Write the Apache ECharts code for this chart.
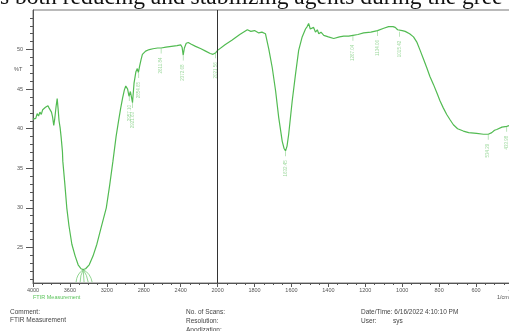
<!DOCTYPE html>
<html><head><meta charset="utf-8">
<script src="https://cdn.jsdelivr.net/npm/echarts@6/dist/echarts.min.js"></script>
<style>html,body{margin:0;padding:0;background:#fff}#c{width:509px;height:331px}</style>
</head><body><div id="c"></div>
<script>
// FTIR spectrum (wavenumber cm-1, %T)
const wavenumbers = [4000,3985,3970,3955,3940,3925,3910,3895,3880,3865,3850,3838,3825,3812,3800,3788,3775,3765,3750,3738,3728,3718,3706,3695,3681,3677,3655,3634,3610,3579,3543,3511,3480,3456,3430,3391,3350,3308,3260,3206,3170,3134,3100,3073,3050,3029,3010,2995,2975,2960,2945,2935,2922,2905,2885,2870,2858,2845,2830,2815,2780,2740,2700,2650,2612,2560,2500,2440,2400,2385,2373,2360,2340,2318,2290,2239,2180,2130,2080,2050,2020,2000,1960,1921,1880,1839,1820,1800,1777,1760,1741,1723,1704,1686,1669,1650,1640,1632,1624,1615,1596,1578,1561,1542,1524,1515,1507,1498,1488,1480,1470,1460,1452,1440,1425,1400,1371,1340,1317,1290,1267,1240,1209,1170,1134,1100,1074,1050,1038,1025,1015,1000,984,960,939,920,903,885,867,850,831,812,795,777,759,740,723,700,669,640,597,560,534,515,500,488,460,434,420,400];
const transmittance = [41.2,41.4,41.3,41.9,41.6,42.1,41.8,42.4,42.2,42.7,42.5,42.9,42.6,42.7,42.1,41.5,40.4,41.2,42.8,43.8,42.5,41.0,40.1,38.9,37.1,35.9,33.0,30.0,27.7,25.4,23.9,22.8,22.3,22.2,22.3,22.8,23.9,25.4,27.6,30.0,32.8,35.9,39.0,41.0,42.6,43.9,44.9,45.4,45.0,44.1,44.7,44.9,43.3,45.8,47.2,47.6,47.1,47.9,48.7,49.4,49.8,50.0,50.1,50.2,50.2,50.3,50.4,50.5,50.6,50.3,49.3,50.2,50.8,50.9,50.7,50.4,50.1,49.8,49.5,49.4,49.6,49.9,50.6,51.2,51.9,52.5,52.3,52.4,52.1,52.2,52.0,50.1,47.7,44.8,41.4,38.4,37.5,37.2,37.8,39.3,43.5,46.9,49.9,51.6,52.6,52.9,53.3,52.6,52.4,52.8,52.2,52.5,52.0,52.2,51.8,51.6,51.4,51.6,51.7,51.7,51.8,51.9,52.1,52.2,52.4,52.7,52.9,52.9,52.8,52.5,52.3,52.4,52.3,52.0,51.6,50.9,49.9,48.8,47.7,46.6,45.6,44.5,43.5,42.6,41.8,41.1,40.5,40.0,39.7,39.5,39.4,39.3,39.3,39.5,39.8,39.9,40.2,40.3,40.4,40.5];

// Peak markers
const peakWavenumbers = [2957.10,2921.63,2854.65,2611.84,2372.68,2021.56,1632.45,1267.04,1134.06,1015.42,534.29,433.98];
const peakTransmittance = [44.2,43.3,47.1,50.2,49.3,49.6,37.2,51.8,52.4,52.3,39.3,40.3];
const clusterCenter = [3456, 22.2];
const clusterPeaks = [3533.2,3489.5,3446.8,3402.1,3359.4];

// Axis tick labels
const yLabelValues = [25,30,35,40,45,50];
const yMinorValues = [21,22,23,24,26,27,28,29,31,32,33,34,36,37,38,39,41,42,43,44,46,47,48,49,51,52,53,54];

// Scale change at 2000 cm-1 (upper part compressed x2)
const toX = w => w >= 2000 ? 2000 + (w - 2000) / 2 : w;
const fromX = v => v > 2000 ? 2000 + (v - 2000) * 2 : v;

const green = '#52bb52';
const lightGreen = '#86d086';
const axisCol = '#555';
const font = 'Liberation Sans, Arial, sans-serif';

const chart = echarts.init(document.getElementById('c'), null, {renderer: 'canvas'});
chart.setOption({
  animation: false,
  backgroundColor: '#fff',
  grid: {left: 33, right: -4, top: 10, bottom: 48, show: true, borderColor: '#777', borderWidth: 1, outerBoundsMode: 'none', containLabel: false},
  xAxis: {
    type: 'value', inverse: true, min: 400, max: 3000, interval: 200,
    axisLine: {lineStyle: {color: axisCol, width: 1}},
    axisTick: {length: 4, lineStyle: {color: axisCol}},
    minorTick: {show: true, splitNumber: 4, length: 2, lineStyle: {color: axisCol}},
    splitLine: {show: false},
    axisLabel: {formatter: v => String(fromX(v)), fontSize: 5.5, color: '#555', margin: 4, fontFamily: font, showMinLabel: true, showMaxLabel: true, hideOverlap: false}
  },
  yAxis: [{
    type: 'value', min: 20.5, max: 55,
    axisLine: {show: true, lineStyle: {color: axisCol, width: 1}},
    axisTick: {show: true, length: 7, customValues: yLabelValues, lineStyle: {color: axisCol}},
    axisLabel: {customValues: yLabelValues, fontSize: 5.5, color: '#555', margin: 10, fontFamily: font},
    splitLine: {show: false}
  }, {
    type: 'value', min: 20.5, max: 55, position: 'left',
    axisLine: {show: false},
    axisTick: {show: true, length: 3, customValues: yMinorValues, lineStyle: {color: axisCol}},
    axisLabel: {show: false},
    splitLine: {show: false}
  }],
  series: [{
    type: 'line', yAxisIndex: 0, showSymbol: false, silent: true,
    data: wavenumbers.map((w, i) => [toX(w), transmittance[i]]),
    lineStyle: {color: green, width: 1.2},
    markLine: {silent: true, symbol: 'none', label: {show: false},
      lineStyle: {color: '#333', width: 1, type: 'solid'},
      data: [{xAxis: toX(2000)}]}
  }, {
    type: 'scatter', silent: true,
    data: peakWavenumbers.map((w, i) => [toX(w), peakTransmittance[i]]),
    symbol: 'rect', symbolSize: [0.7, 5], symbolOffset: [0, 3],
    itemStyle: {color: lightGreen},
    label: {show: true, position: 'bottom', distance: 4, rotate: 90, align: 'right', verticalAlign: 'middle',
      fontSize: 4.5, color: lightGreen, fontFamily: font,
      formatter: p => fromX(p.value[0]).toFixed(2)}
  }, {
    type: 'lines', coordinateSystem: 'cartesian2d', silent: true,
    data: clusterPeaks.map((w, i) => ({
      coords: [[toX(clusterCenter[0]), clusterCenter[1]], [toX(w), 20.6]],
      lineStyle: {curveness: (i - 2) * 0.12}
    })),
    lineStyle: {color: lightGreen, width: 0.9, opacity: 1}
  }],
  graphic: [
    {type: 'text', left: 0, top: -14, style: {text: 's both reducing and stabilizing agents during the gree', font: '23.5px "Liberation Serif", "Times New Roman", serif', fill: '#111'}},
    {type: 'text', x: 14, y: 66, style: {text: '%T', font: '5.5px ' + font, fill: '#555'}},
    {type: 'text', x: 33, y: 294, style: {text: 'FTIR Measurement', font: '5.5px ' + font, fill: '#5cc45c'}},
    {type: 'text', x: 497, y: 294, style: {text: '1/cm', font: '5.5px ' + font, fill: '#555'}},
    {type: 'text', x: 10, y: 309, style: {text: 'Comment:', font: '6.5px ' + font, fill: '#444'}},
    {type: 'text', x: 10, y: 317, style: {text: 'FTIR Measurement', font: '6.5px ' + font, fill: '#444'}},
    {type: 'text', x: 186, y: 309, style: {text: 'No. of Scans:', font: '6.5px ' + font, fill: '#444'}},
    {type: 'text', x: 186, y: 318, style: {text: 'Resolution:', font: '6.5px ' + font, fill: '#444'}},
    {type: 'text', x: 186, y: 327, style: {text: 'Apodization:', font: '6.5px ' + font, fill: '#444'}},
    {type: 'text', x: 361, y: 309, style: {text: 'Date/Time: 6/16/2022 4:10:10 PM', font: '6.5px ' + font, fill: '#444'}},
    {type: 'text', x: 361, y: 318, style: {text: 'User:', font: '6.5px ' + font, fill: '#444'}},
    {type: 'text', x: 393, y: 318, style: {text: 'sys', font: '6.5px ' + font, fill: '#444'}}
  ]
});
</script>
</body></html>
